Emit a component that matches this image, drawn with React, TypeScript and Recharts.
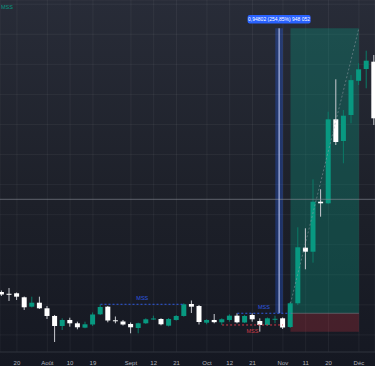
import {
  ComposedChart,
  Bar,
  XAxis,
  YAxis,
  CartesianGrid,
  ReferenceArea,
  ReferenceLine,
  ReferenceDot,
} from "recharts";

// 3-day candles, Jul -> Dec
const dates = [
  "07-14", "07-17", "07-20", "07-23", "07-26", "07-29", "08-01", "08-04", "08-07", "08-10",
  "08-13", "08-16", "08-19", "08-22", "08-25", "08-28", "08-31", "09-03", "09-06", "09-09",
  "09-12", "09-15", "09-18", "09-21", "09-24", "09-27", "09-30", "10-03", "10-06", "10-09",
  "10-12", "10-15", "10-18", "10-21", "10-24", "10-27", "10-30", "11-02", "11-05", "11-08",
  "11-11", "11-14", "11-17", "11-20", "11-23", "11-26", "11-29", "12-02", "12-05", "12-08",
];

const opens = [
  0.4428, 0.4368, 0.4385, 0.4252, 0.3939, 0.4072, 0.3886, 0.363, 0.3297, 0.3497,
  0.3387, 0.3241, 0.3347, 0.3686, 0.3939, 0.3487, 0.3447, 0.3364, 0.3231, 0.3387,
  0.3513, 0.353, 0.3307, 0.3497, 0.363, 0.4029, 0.3962, 0.3407, 0.3497, 0.342,
  0.3497, 0.364, 0.3414, 0.3663, 0.3463, 0.3331, 0.3523, 0.3553, 0.3264, 0.4052,
  0.5902, 0.5768, 0.7431, 0.7378, 1.0172, 0.945, 1.0315, 1.1452, 1.1845, 1.2088,
];
const highs = [
  0.4478, 0.4561, 0.4411, 0.4278, 0.4272, 0.4272, 0.3962, 0.3663, 0.3553, 0.3573,
  0.344, 0.344, 0.3746, 0.4012, 0.3962, 0.3613, 0.3497, 0.3414, 0.3407, 0.3553,
  0.364, 0.3553, 0.3563, 0.3663, 0.4052, 0.4145, 0.3996, 0.352, 0.3696, 0.3553,
  0.3686, 0.372, 0.3663, 0.372, 0.3553, 0.358, 0.364, 0.358, 0.4096, 0.658,
  0.6547, 0.8176, 0.7844, 1.0425, 1.1502, 1.0481, 1.1646, 1.2035, 1.2454, 1.2311,
];
const lows = [
  0.4295, 0.4129, 0.4162, 0.383, 0.3913, 0.3863, 0.353, 0.2765, 0.3164, 0.3274,
  0.3187, 0.3221, 0.3297, 0.3663, 0.342, 0.3387, 0.3314, 0.3054, 0.3054, 0.3364,
  0.3497, 0.332, 0.3281, 0.3474, 0.3607, 0.373, 0.3347, 0.3354, 0.3387, 0.3331,
  0.344, 0.3387, 0.3397, 0.344, 0.3108, 0.3314, 0.3387, 0.3198, 0.3231, 0.3996,
  0.5183, 0.5403, 0.6933, 0.7355, 0.9317, 0.8709, 1.0039, 1.1313, 1.1203, 0.9983,
];
const closes = [
  0.4345, 0.4355, 0.4272, 0.3919, 0.4072, 0.3886, 0.363, 0.3297, 0.3497, 0.3387,
  0.3254, 0.3354, 0.368, 0.3929, 0.348, 0.347, 0.3347, 0.3254, 0.3387, 0.352,
  0.3547, 0.3354, 0.353, 0.363, 0.4019, 0.3939, 0.343, 0.3497, 0.3424, 0.352,
  0.364, 0.342, 0.363, 0.352, 0.3331, 0.3553, 0.3537, 0.3247, 0.4052, 0.5915,
  0.5768, 0.7431, 0.7378, 1.0172, 0.9417, 1.0292, 1.1475, 1.1835, 1.2121, 1.0205,
];

const tickDates = ["07-20", "08-01", "08-10", "08-19", "09-03", "09-12", "09-21", "10-03", "10-12", "10-21", "11-02", "11-11", "11-20", "12-02"];
const tickLabels = ["20", "Août", "10", "19", "Sept", "12", "21", "Oct", "12", "21", "Nov", "11", "20", "Déc"];

const gridPrices = [
  0.25, 0.3, 0.35, 0.4, 0.45, 0.5, 0.55, 0.6, 0.65, 0.7, 0.75, 0.8,
  0.85, 0.9, 0.95, 1.0, 1.05, 1.1, 1.15, 1.2, 1.25, 1.3, 1.35, 1.4,
];

// drawings on the chart
const entryPrice = 0.372;
const targetPrice = 1.3199;
const stopPrice = 0.3107;
const longFrom = "11-05";
const longTo = "12-02";
const measureFrom = "10-30";
const measureTo = "11-02";
const measureText = "0,94802 (254,85%) 948 052";
const crossPrice = 0.7511;
const mssLevels = [
  { from: "08-22", to: "09-24", price: 0.4019, color: "#2f5ae0", below: false },
  { from: "10-15", to: "11-05", price: 0.372, color: "#2f5ae0", below: false },
  { from: "10-09", to: "11-02", price: 0.3331, color: "#d23c48", below: true },
];

const idx = (d: string) => dates.indexOf(d);
const tickIdx = tickDates.map(idx);

const data = dates.map((d, i) => ({
  i,
  date: d,
  open: opens[i],
  high: highs[i],
  low: lows[i],
  close: closes[i],
}));

const GREEN = "#089981";
const WHITE = "#ffffff";
const FONT = "Liberation Sans, sans-serif";

const Candle = (props: any) => {
  const { x, y, width, height, payload } = props;
  if (x == null || y == null) return null;
  const { open, close, high, low } = payload;
  const up = close > open;
  const span = high - low || 1;
  const top0 = Math.min(y, y + height);
  const h = Math.abs(height);
  const py = (v: number) => top0 + ((high - v) / span) * h;
  const bTop = py(Math.max(open, close));
  const bBot = py(Math.min(open, close));
  const cx = x + width / 2;
  return (
    <g>
      <line x1={cx} x2={cx} y1={top0} y2={top0 + h} stroke={up ? "#0b7a67" : "#c9cbd1"} strokeWidth={1} />
      <rect x={x} y={bTop} width={width} height={Math.max(1, bBot - bTop)} fill={up ? GREEN : WHITE} />
    </g>
  );
};

const MeasureLabel = ({ viewBox }: any) => {
  if (!viewBox) return null;
  const cx = viewBox.x + viewBox.width / 2;
  const top = viewBox.y;
  return (
    <g>
      <rect x={cx - 31.5} y={top - 13.3} width={63} height={8.5} rx={2} fill="#2962ff" />
      <text x={cx} y={top - 7.1} textAnchor="middle" fill="#ffffff" fontSize={5} fontFamily={FONT}>
        {measureText}
      </text>
    </g>
  );
};

export default function App() {
  return (
    <div
      style={{
        position: "fixed",
        left: 0,
        top: 0,
        width: 375,
        height: 366,
        background: "linear-gradient(180deg, #282c38 0%, #1d2029 55%, #151822 100%)",
      }}
    >
      <ComposedChart
        width={375}
        height={366}
        data={data}
        margin={{ top: 0, right: 0, bottom: 0, left: 0 }}
      >
        <CartesianGrid stroke="rgba(255,255,255,0.05)" strokeWidth={1} />
        <XAxis
          type="number"
          dataKey="i"
          domain={[-0.224, 49.118]}
          allowDataOverflow
          ticks={tickIdx}
          interval={0}
          tickFormatter={(v: number) => tickLabels[tickIdx.indexOf(v)] ?? ""}
          height={14}
          axisLine={{ stroke: "#2a2e39" }}
          tickLine={false}
          tick={{ fill: "#b2b5be", fontSize: 6, fontFamily: FONT }}
          tickMargin={3}
        />
        <YAxis hide type="number" domain={[0.2432, 1.414]} allowDataOverflow ticks={gridPrices} />

        <ReferenceArea
          x1={idx(longFrom)}
          x2={idx(longTo)}
          y1={entryPrice}
          y2={targetPrice}
          fill={GREEN}
          fillOpacity={0.33}
          stroke="none"
        />
        <ReferenceArea
          x1={idx(longFrom)}
          x2={idx(longTo)}
          y1={stopPrice}
          y2={entryPrice}
          fill="#f23645"
          fillOpacity={0.22}
          stroke="none"
        />
        <ReferenceArea
          x1={idx(measureFrom)}
          x2={idx(measureTo)}
          y1={entryPrice}
          y2={targetPrice}
          fill="#2962ff"
          fillOpacity={0.3}
          stroke="none"
          label={<MeasureLabel />}
        />

        <ReferenceLine y={crossPrice} stroke="#8a8e99" strokeOpacity={0.6} strokeWidth={1} />

        <Bar
          dataKey={(d: any) => [d.low, d.high]}
          barSize={5}
          shape={<Candle />}
          isAnimationActive={false}
        />

        <ReferenceLine
          segment={[
            { x: (idx(measureFrom) + idx(measureTo)) / 2, y: entryPrice },
            { x: (idx(measureFrom) + idx(measureTo)) / 2, y: targetPrice },
          ]}
          stroke="#c8d3ff"
          strokeWidth={1}
        />
        <ReferenceLine
          segment={[
            { x: idx(longFrom), y: entryPrice },
            { x: idx(longTo), y: entryPrice },
          ]}
          stroke="#787b86"
          strokeOpacity={0.6}
        />
        <ReferenceLine
          segment={[
            { x: idx(longFrom), y: closes[idx(longFrom)] },
            { x: idx(longTo), y: targetPrice },
          ]}
          stroke="#9aa0aa"
          strokeOpacity={0.5}
          strokeDasharray="2 2"
        />
        {mssLevels.map((m, k) => (
          <ReferenceLine
            key={k}
            segment={[
              { x: idx(m.from), y: m.price },
              { x: idx(m.to), y: m.price },
            ]}
            stroke={m.color}
            strokeWidth={1}
            strokeDasharray="2 2"
            label={{
              value: "MSS",
              position: m.below ? "bottom" : "top",
              fill: m.color,
              fontSize: 5.5,
              offset: 4,
              fontFamily: FONT,
            }}
          />
        ))}
        <ReferenceDot
          x={-0.224}
          y={1.39}
          r={0}
          fill="none"
          stroke="none"
          label={{
            value: "MSS",
            position: "right",
            offset: 1,
            fill: GREEN,
            fontSize: 5.5,
            fontFamily: FONT,
          }}
        />
      </ComposedChart>
    </div>
  );
}
